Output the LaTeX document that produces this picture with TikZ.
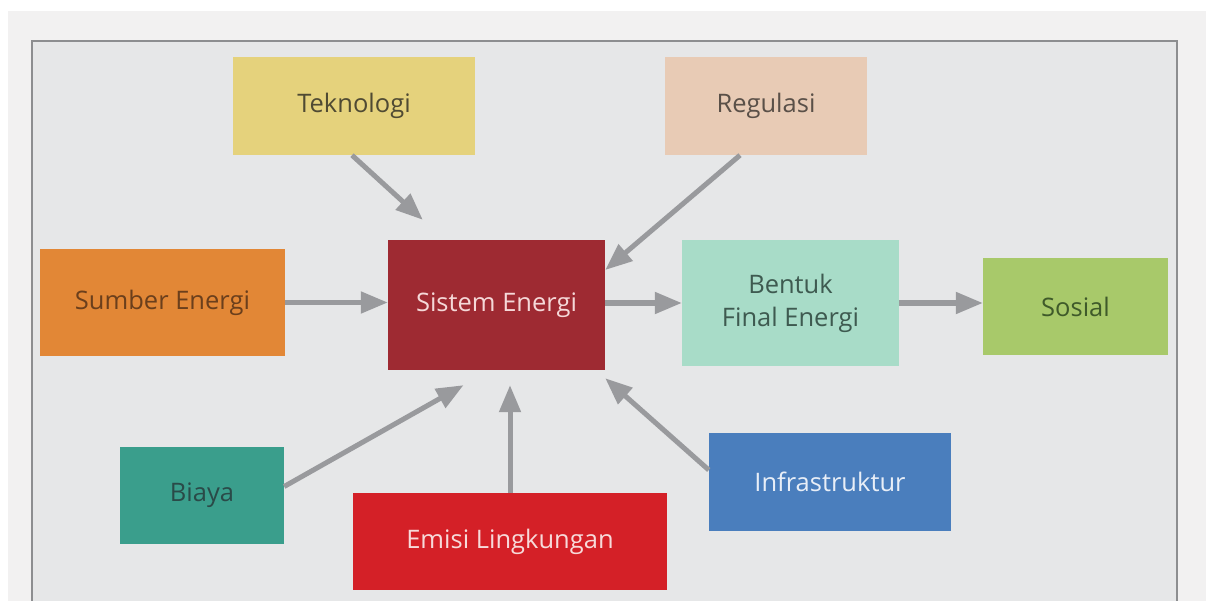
\documentclass[tikz,border=0pt]{standalone}
\usepackage{fontspec}
\setmainfont{Open Sans}
\usetikzlibrary{arrows.meta}

\definecolor{outerbg}{HTML}{F2F1F1}
\definecolor{innerbg}{HTML}{E6E7E8}
\definecolor{framegray}{HTML}{8D8E90}
\definecolor{arrgray}{HTML}{999A9D}
\definecolor{tekfill}{HTML}{E5D27C}
\definecolor{tektext}{HTML}{4F4A33}
\definecolor{regfill}{HTML}{E8CBB5}
\definecolor{regtext}{HTML}{5A5048}
\definecolor{sumfill}{HTML}{E28736}
\definecolor{sumtext}{HTML}{6B3F1C}
\definecolor{sisfill}{HTML}{9E2A32}
\definecolor{sistext}{HTML}{F5D8D8}
\definecolor{bfefill}{HTML}{A8DCC8}
\definecolor{bfetext}{HTML}{3E5A50}
\definecolor{sosfill}{HTML}{A8C96A}
\definecolor{sostext}{HTML}{3F5A2A}
\definecolor{biafill}{HTML}{3A9E8C}
\definecolor{biatext}{HTML}{2A4A48}
\definecolor{emifill}{HTML}{D42027}
\definecolor{emitext}{HTML}{F7DADA}
\definecolor{inffill}{HTML}{4A7EBD}
\definecolor{inftext}{HTML}{E8EEF7}

\begin{document}
\begin{tikzpicture}[x=1pt, y=1pt,
        main/.style = {rectangle, inner sep=0pt, align=center, font=\fontsize{25.5}{33}\selectfont},
        arr/.style = {line width=5pt, color=arrgray, -{Triangle[length=27pt, width=21pt]}}]

            \useasboundingbox (0,0) rectangle (1206,-601);
            \fill[white] (0,0) rectangle (1206,-601);
            \fill[outerbg] (8,-11) rectangle (1206,-601);
            \draw[framegray, line width=2pt, fill=innerbg] (32,-41) rectangle (1177,-640);

            \node[main, fill=tekfill, text=tektext, minimum width=242pt, minimum height=98pt] (1) at (354,-106) {Teknologi};
            \node[main, fill=regfill, text=regtext, minimum width=202pt, minimum height=98pt] (2) at (766,-106) {Regulasi};
            \node[main, fill=sumfill, text=sumtext, minimum width=245pt, minimum height=107pt] (3) at (162.5,-302.5) {Sumber Energi};
            \node[main, fill=sisfill, text=sistext, minimum width=217pt, minimum height=130pt] (5) at (496.5,-305) {Sistem Energi};
            \node[main, fill=bfefill, text=bfetext, minimum width=217pt, minimum height=126pt] (6) at (790.5,-303) {Bentuk\\Final Energi};
            \node[main, fill=sosfill, text=sostext, minimum width=185pt, minimum height=97pt] (7) at (1075.5,-306.5) {Sosial};
            \node[main, fill=biafill, text=biatext, minimum width=164pt, minimum height=97pt] (8) at (202,-495.5) {Biaya};
            \node[main, fill=emifill, text=emitext, minimum width=314pt, minimum height=97pt] (9) at (510,-541.5) {Emisi Lingkungan};
            \node[main, fill=inffill, text=inftext, minimum width=242pt, minimum height=98pt] (10) at (830,-482) {Infrastruktur};

            \draw[arr] ([xshift=-2pt]1.south) -- ([xshift=35pt, yshift=20pt]5.north west);
            \draw[arr] ([xshift=-26pt]2.south) -- ([yshift=35pt]5.east);
            \draw[arr] (3.east) -- (3.east -| 5.west);
            \draw[arr] ([yshift=2pt]5.east) -- ([yshift=2pt]5.east -| 6.west);
            \draw[arr] (6.east) -- (6.east -| 7.west);
            \draw[arr] ([yshift=9pt]8.east) -- ([xshift=-33pt, yshift=-15pt]5.south);
            \draw[arr] (9.north) -- ([yshift=-15pt]5.south -| 9.north);
            \draw[arr] ([yshift=12pt]10.west) -- ([yshift=-8pt]5.south east);

            \end{tikzpicture}
\end{document}
